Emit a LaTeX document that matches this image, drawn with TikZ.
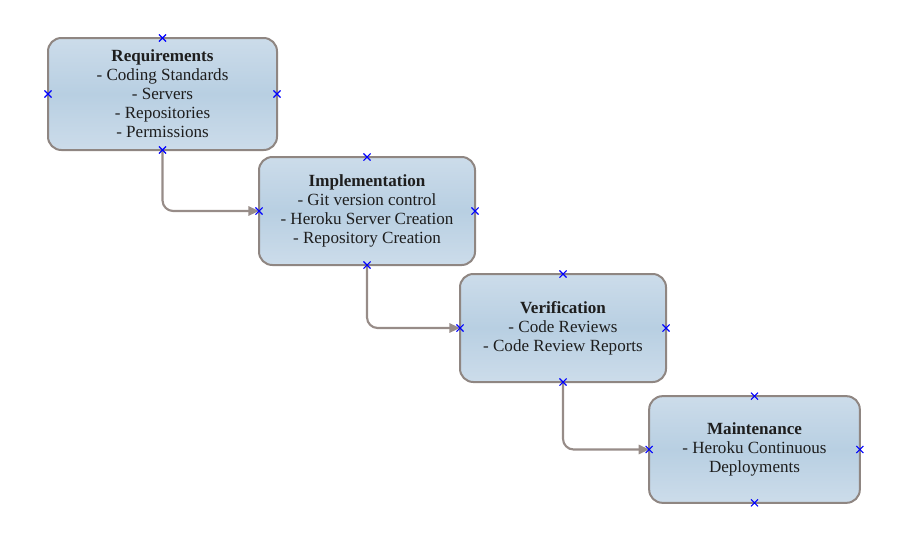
\documentclass[tikz,border=0pt]{standalone}
\usepackage{fontspec}
\setmainfont{Liberation Serif}
\usepackage{xcolor}
\usetikzlibrary{positioning, arrows.meta, shapes.misc}

\definecolor{boxtop}{HTML}{CCDCEA}
\definecolor{boxmid}{HTML}{B8CFE2}
\definecolor{boxline}{HTML}{8F8682}
\definecolor{linkgray}{HTML}{978C88}
\definecolor{textdark}{HTML}{1E1E1E}

\begin{document}
\begin{tikzpicture}[
    x=0.75pt, y=-0.75pt,
    box/.style={rectangle, draw=boxline, line width=1.5pt, rounded corners=10pt,
        top color=boxtop, bottom color=boxtop, middle color=boxmid,
        minimum width=#1, minimum height=81pt, align=center, outer sep=0pt,
        text=textdark, font=\fontsize{12.8}{14.3}\selectfont},
    arrow/.style={-{Triangle[length=8pt, width=7pt]}, draw=linkgray,
        line width=1.6pt, rounded corners=8pt},
    xmark/.style={cross out, draw=blue, line width=0.8pt, minimum size=4.5pt, inner sep=0pt},
]
\useasboundingbox (0,0) rectangle (907,553);

\node[box=171.75pt, minimum height=84pt] (req) at (162.5,94) {\textbf{Requirements}\\- Coding Standards\\- Servers\\- Repositories\\- Permissions};
\node[box=162pt] (impl) at (367,211) {\textbf{Implementation}\\- Git version control\\- Heroku Server Creation\\- Repository Creation};
\node[box=154.5pt] (ver) at (563,328) {\textbf{Verification}\\- Code Reviews\\- Code Review Reports};
\node[box=158pt, minimum height=80pt] (maint) at (754.5,449.5) {\textbf{Maintenance}\\- Heroku Continuous\\Deployments};

\foreach \a/\b in {req/impl, impl/ver, ver/maint} {
    \draw[arrow] (\a.south) |- (\b.west);
}

% connection points
\foreach \n in {req, impl, ver, maint} {
    \foreach \p in {north, south, east, west} {
        \node[xmark] at (\n.\p) {};
    }
}

\end{tikzpicture}
\end{document}
